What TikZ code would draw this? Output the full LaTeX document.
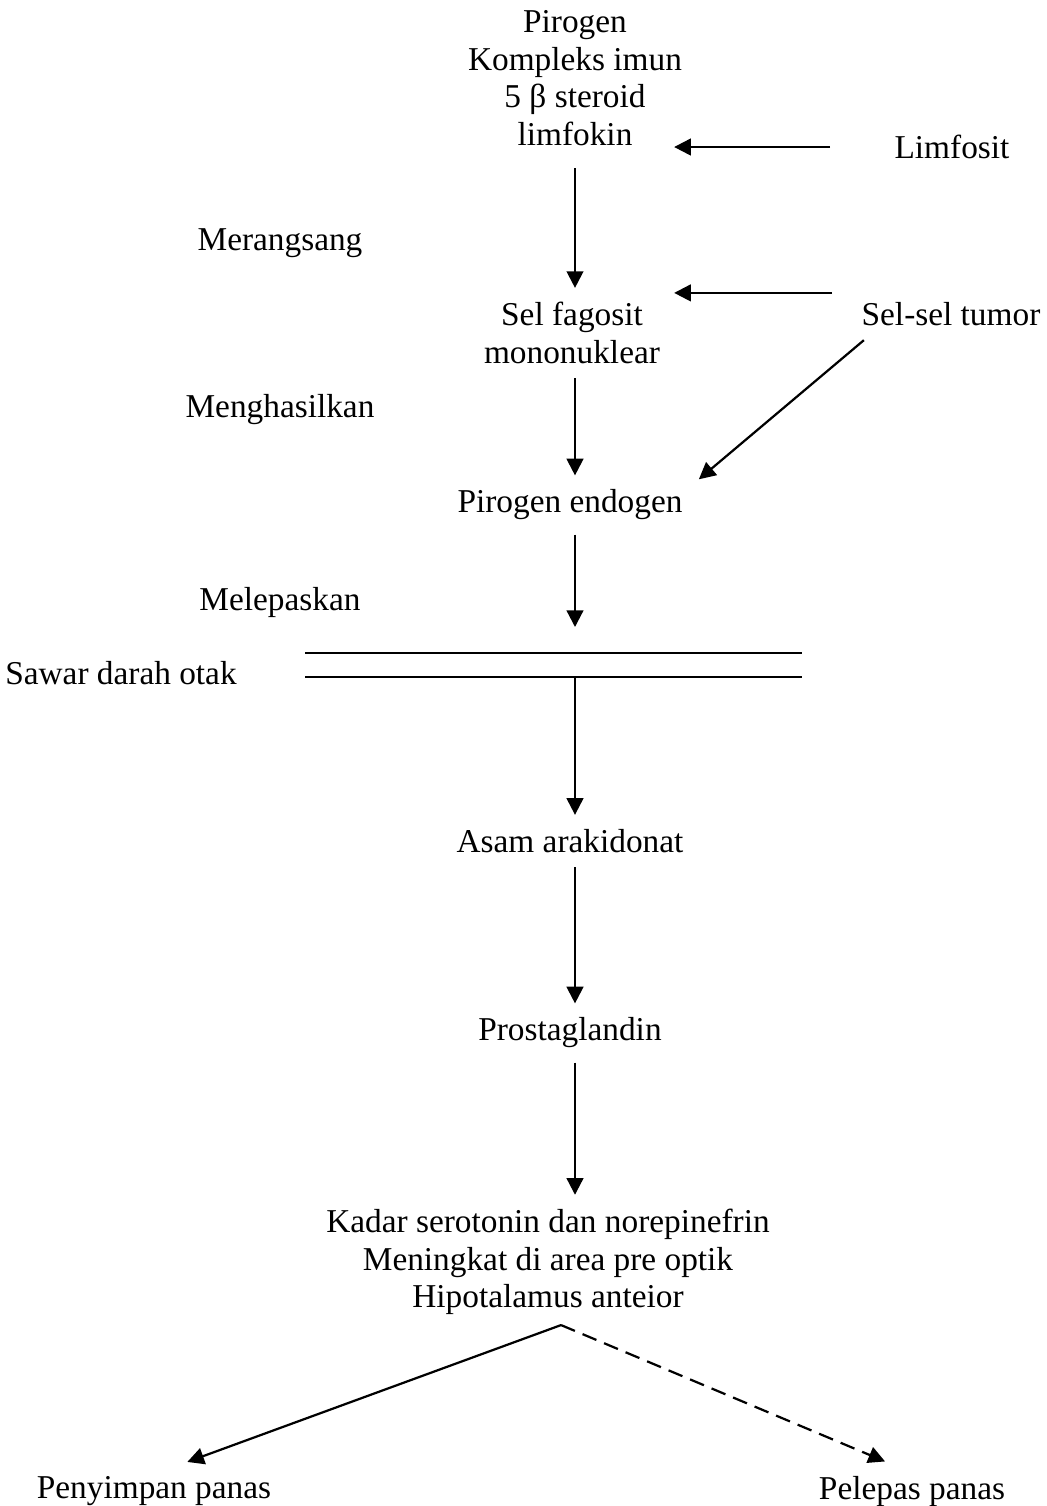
\documentclass[tikz,border=0pt]{standalone}
\usepackage{fontspec}
\setmainfont{Liberation Serif}
\usetikzlibrary{arrows.meta, positioning}

\begin{document}
\begin{tikzpicture}[x=0.36pt, y=-0.36pt]
		\tikzstyle{Teks} = [align=center, inner xsep=1pt, inner ysep=5pt, font=\fontsize{12}{13.5}\selectfont]
		\tikzstyle{Label} = [inner sep=0pt, font=\fontsize{12}{13.5}\selectfont]
		\tikzstyle{Garis} = [line width=0.8pt]
		\tikzstyle{arrow} = [line width=0.8pt, -{Triangle[length=6pt, width=6pt]}]

		\useasboundingbox (0,0) rectangle (1047,1506);

		\node (pirogen) [Teks] at (575,78) {Pirogen\\Kompleks imun\\5 β steroid\\limfokin};
		\node (limfosit) [Teks] at (952,147) {Limfosit};
		\node (sel) [Teks] at (572,333) {Sel fagosit\\mononuklear};
		\node (tumor) [Teks] at (951,314) {Sel-sel tumor};
		\node (endogen) [Teks] at (570,505) {Pirogen endogen};
		\node (arakidonat) [Teks] at (570,841) {Asam arakidonat};
		\node (prostaglandin) [Teks] at (570,1033) {Prostaglandin};
		\node (kadar) [Teks] at (548,1262) {Kadar serotonin dan norepinefrin\\Meningkat di area pre optik\\Hipotalamus anteior};
		\node (simpan) [Teks] at (154,1491) {Penyimpan panas};
		\node (lepas) [Teks] at (912,1491) {Pelepas panas};

		\node (merangsang) [Label] at (280,243) {Merangsang};
		\node (menghasilkan) [Label] at (280,410) {Menghasilkan};
		\node (melepaskan) [Label] at (280,602) {Melepaskan};
		\node (sawar) [Label] at (121,673) {Sawar darah otak};

		% sawar darah otak
		\draw[Garis] (305,653) -- (802,653);
		\draw[Garis] (305,677) -- (802,677);
		\coordinate (atas) at (575,627);
		\coordinate (bawah) at (575,677);
		\coordinate (puncak) at ([xshift=4.7pt, yshift=1.5pt]kadar.south);

		\draw[arrow, shorten <=3pt] (pirogen.south) -- (sel.north -| pirogen);
		\draw[arrow] (sel.south -| pirogen) -- (endogen.north -| pirogen);
		\draw[arrow] (endogen.south -| pirogen) -- (atas);
		\draw[arrow] (bawah) -- (arakidonat.north -| bawah);
		\draw[arrow] (arakidonat.south -| bawah) -- (prostaglandin.north -| bawah);
		\draw[arrow] (prostaglandin.south -| bawah) -- (kadar.north -| bawah);

		\draw[arrow, shorten <=22pt, shorten >=-4pt] (limfosit.west) -- (limfosit.west -| pirogen.east);
		\draw[arrow, shorten <=9.4pt, shorten >=-4pt] ([yshift=7.6pt]tumor.west) -- ([yshift=7.6pt]tumor.west -| pirogen.east);
		\draw[arrow] ([xshift=2pt]tumor.south west) -- ([xshift=4.7pt, yshift=-1.4pt]endogen.north east);

		\draw[arrow] (puncak) -- ([xshift=12pt]simpan.north);
		\draw[arrow, dash pattern=on 5.4pt off 3pt] (puncak) -- ([xshift=-9.7pt]lepas.north);
\end{tikzpicture}
\end{document}
